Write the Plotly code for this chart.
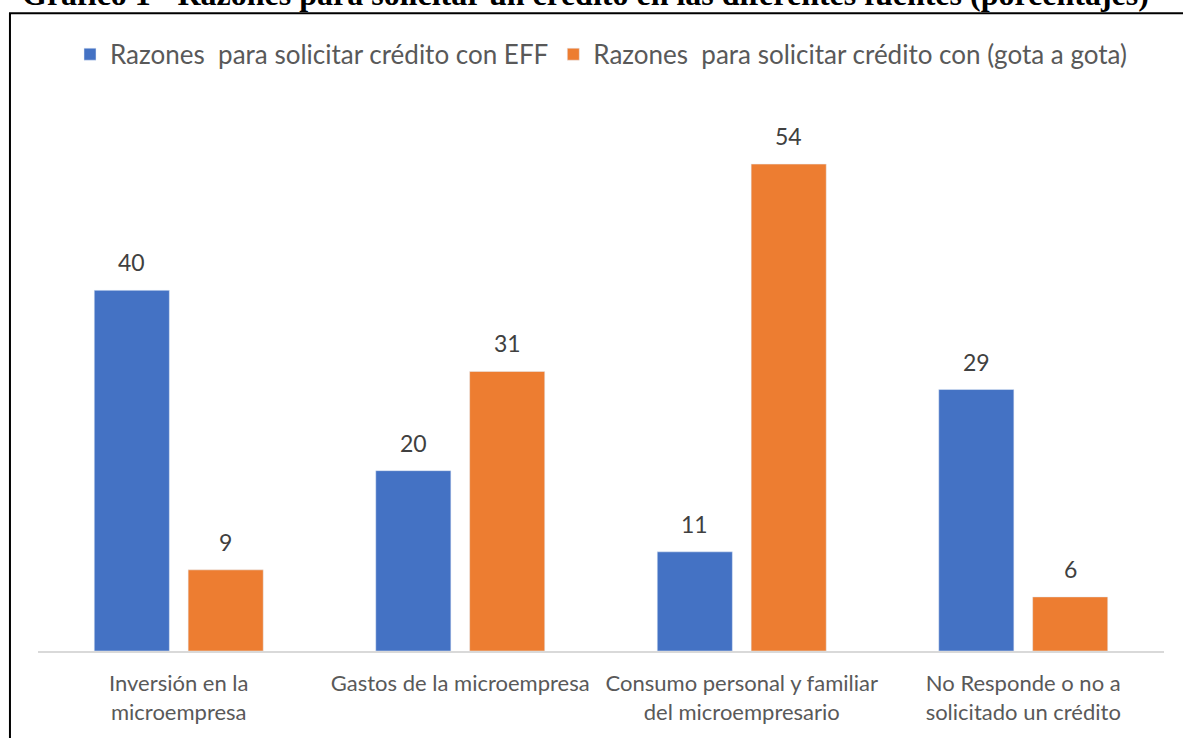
import plotly.graph_objects as go

categories = ["Inversión en la<br>microempresa", "Gastos de la microempresa",
              "Consumo personal y familiar<br>del microempresario",
              "No Responde o no a<br>solicitado un crédito"]
eff_values = [40, 20, 11, 29]
gota_values = [9, 31, 54, 6]
series_names = ["Razones \u00a0para solicitar crédito con EFF",
                "Razones \u00a0para solicitar crédito con (gota a gota)"]
title_text = "Gráfico 1 - Razones para solicitar un crédito en las diferentes fuentes (porcentajes)"

BLUE = "#4472C4"
ORANGE = "#ED7D31"
GRAY = "#595959"
FONT = "Lato"

fig = go.Figure()
fig.add_trace(go.Bar(x=categories, y=eff_values, name=series_names[0], marker_color=BLUE))
fig.add_trace(go.Bar(x=categories, y=gota_values, name=series_names[1], marker_color=ORANGE))

annotations = []
for vals, shift in ((eff_values, -47), (gota_values, 47)):
    for c, v in zip(categories, vals):
        annotations.append(dict(x=c, y=v, xref="x", yref="y", text=str(v), showarrow=False,
                                xshift=shift, yshift=12, yanchor="bottom",
                                font=dict(family=FONT, size=23, color="#404040")))
annotations.append(dict(x=0.4858, y=1.215, xref="paper", yref="paper", text="<b>" + title_text + "</b>",
                        showarrow=False, xanchor="center", yanchor="middle",
                        font=dict(family="Liberation Serif", size=32, color="black")))

fig.update_layout(
    width=1183, height=738,
    margin=dict(l=38, r=19, t=110, b=87),
    paper_bgcolor="white", plot_bgcolor="white",
    barmode="group", bargap=0.333, bargroupgap=0.2,
    showlegend=True,
    legend=dict(orientation="h", x=0.5, xanchor="center", y=1.103, yanchor="middle",
                font=dict(family=FONT, size=26, color=GRAY), traceorder="normal",
                itemwidth=30),
    annotations=annotations,
    shapes=[dict(type="rect", xref="paper", yref="paper", x0=-0.0249, x1=1.05, y0=-0.3, y1=1.179,
                 line=dict(color="black", width=2), fillcolor="rgba(0,0,0,0)", layer="above")],
)
fig.update_xaxes(showline=True, linecolor="#D9D9D9", linewidth=1.5, ticks="", showgrid=False,
                 tickfont=dict(family=FONT, size=22, color=GRAY), ticklabelstandoff=12)
fig.update_yaxes(range=[0, 60], showgrid=False, showticklabels=False, zeroline=False, showline=False)

fig.write_html("out.html", config={"displayModeBar": False},
               post_script="document.body.style.margin='0';document.body.style.overflow='hidden';")
